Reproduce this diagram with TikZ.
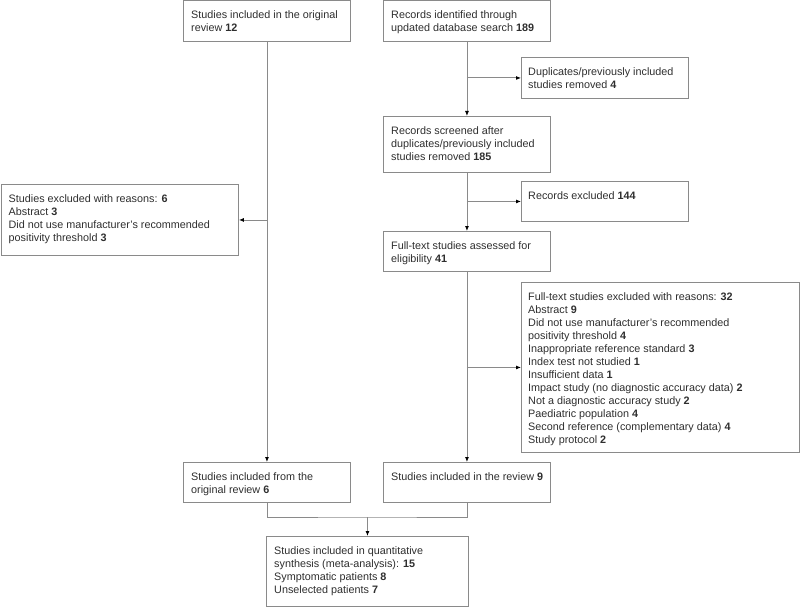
\documentclass[tikz,border=0pt]{standalone}
\usepackage{fontspec}
\setmainfont{Liberation Sans}
\usetikzlibrary{arrows.meta}
\definecolor{boxgray}{HTML}{8A8A8A}
\definecolor{txtgray}{HTML}{2E2E2E}
\tikzset{
  box/.style={draw=boxgray, line width=0.9pt, anchor=north west, inner sep=0pt, minimum width=#1},
  txt/.style={anchor=north west, inner sep=0pt, align=left, text=txtgray,
    font=\fontsize{10.8}{13}\selectfont},
  conn/.style={draw=boxgray, line width=0.9pt},
  arr/.style={conn, -{Latex[length=5pt,width=4pt,fill=black,color=black]}}
}
\begin{document}
\begin{tikzpicture}[x=1pt,y=-1pt]
\useasboundingbox (0,0) rectangle (800,607);
% boxes
\node[box=167pt, minimum height=41pt] (b1) at (183,0.5) {};
\node[box=167pt, minimum height=41pt] (b2) at (383,0.5) {};
\node[box=167pt, minimum height=41pt] (dup) at (521,57) {};
\node[box=167pt, minimum height=56pt] (scr) at (383,116) {};
\node[box=167pt, minimum height=40pt] (recx) at (521,181) {};
\node[box=167pt, minimum height=40pt] (ft) at (383,231) {};
\node[box=278pt, minimum height=170pt] (ftx) at (521,282) {};
\node[box=237.5pt, minimum height=71pt] (lex) at (0.5,184) {};
\node[box=167pt, minimum height=40pt] (orig) at (183,462) {};
\node[box=167pt, minimum height=40pt] (rev) at (383,462) {};
\node[box=202pt, minimum height=70pt] (fin) at (266,536) {};
% texts
\node[txt] (t1) at ([shift={(8,10)}]b1.north west) {Studies included in the original\\review \textbf{12}};
\node[txt] (t2) at ([shift={(8,10)}]b2.north west) {Records identified through\\updated database search \textbf{189}};
\node[txt] (t3) at ([shift={(7,10)}]dup.north west) {Duplicates/previously included\\studies removed \textbf{4}};
\node[txt] (t4) at ([shift={(8,10)}]scr.north west) {Records screened after\\duplicates/previously included\\studies removed \textbf{185}};
\node[txt] (t5) at ([shift={(7,10)}]recx.north west) {Records excluded \textbf{144}};
\node[txt] (t6) at ([shift={(8,10)}]ft.north west) {Full-text studies assessed for\\eligibility \textbf{41}};
\node[txt] (t7) at ([shift={(7,10)}]ftx.north west) {Full-text studies excluded with reasons: \textbf{32}\\Abstract \textbf{9}\\Did not use manufacturer's recommended\\positivity threshold \textbf{4}\\Inappropriate reference standard \textbf{3}\\Index test not studied \textbf{1}\\Insufficient data \textbf{1}\\Impact study (no diagnostic accuracy data) \textbf{2}\\Not a diagnostic accuracy study \textbf{2}\\Paediatric population \textbf{4}\\Second reference (complementary data) \textbf{4}\\Study protocol \textbf{2}};
\node[txt] (t8) at ([shift={(8,10)}]lex.north west) {Studies excluded with reasons: \textbf{6}\\Abstract \textbf{3}\\Did not use manufacturer's recommended\\positivity threshold \textbf{3}};
\node[txt] (t9) at ([shift={(8,10)}]orig.north west) {Studies included from the\\original review \textbf{6}};
\node[txt] (t10) at ([shift={(8,10)}]rev.north west) {Studies included in the review \textbf{9}};
\node[txt] (t11) at ([shift={(8,10)}]fin.north west) {Studies included in quantitative\\synthesis (meta-analysis): \textbf{15}\\Symptomatic patients \textbf{8}\\Unselected patients \textbf{7}};
% connectors
\draw[arr] (b1.south) -- (orig.north);
\draw[arr] (b2.south) -- (scr.north);
\draw[arr] (scr.south) -- (ft.north);
\draw[arr] (ft.south) -- (rev.north);
\draw[arr] (b2.south |- dup.west) -- (dup.west);
\draw[arr] (scr.south |- recx.west) -- (recx.west);
\draw[arr] (ft.south |- ftx.west) -- (ftx.west);
\draw[arr] (b1.south |- lex.east) -- (lex.east);
\coordinate (m) at (fin.north |- 0,517);
\draw[conn] (orig.south) |- (m) -| (rev.south);
\draw[arr] (m) -- (fin.north);
\end{tikzpicture}
\end{document}
